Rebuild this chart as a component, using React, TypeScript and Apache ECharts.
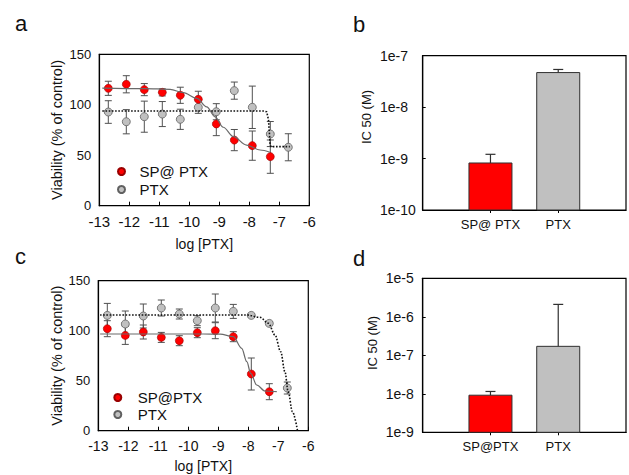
import { useEffect, useRef } from 'react';
import * as echarts from 'echarts';

const FONT = '"Liberation Sans", Arial, sans-serif';

// log10 of PTX concentration (M)
const logConc = [-12.7, -12.1, -11.5, -10.9, -10.3, -9.7, -9.1, -8.5, -7.9, -7.3, -6.7];

// Panel a: viability (% of control)
const aSpMean = [116.3, 120.3, 115, 112.3, 109.4, 105.4, 81, 65, 59.5, 48.6];
const aSpErr = [7, 8.5, 6, 3.5, 8, 8, 11.6, 10.5, 14.5, 16.5];
const aPtxMean = [92.8, 83.2, 88.2, 90.8, 85.6, 97.5, 93.1, 114, 97.5, 71, 57.9];
const aPtxErr = [11.2, 12, 15.4, 12.4, 10, 6, 8, 8.5, 21, 12.4, 13.4];

// Panel a fitted curves
const aFitSpX = [-12.9, -11.5, -10.64, -10.2, -9.75, -9.42, -9.14, -8.87, -8.53, -8.09, -7.64, -7.31];
const aFitSpY = [116.5, 116, 115.3, 112, 106.4, 98, 88, 77.7, 68.4, 60.1, 55.2, 52.9];
const aFitPtxX = [-12.9, -7.5, -7.42, -7.36, -7.33, -7.31, -7.28, -6.65];
const aFitPtxY = [93.8, 93.8, 93, 85, 72, 62, 58.5, 58.5];

// Panel c: viability (% of control)
const cSpMean = [102, 95.3, 98.7, 93.3, 90, 98, 100, 94, 56.7, 39];
const cSpErr = [8, 9, 7, 5, 5, 5, 8, 5, 16, 8];
const cPtxMean = [115.3, 106.7, 114.7, 122.7, 116.7, 110, 122.7, 119.3, 115.3, 107.3, 42.7];
const cPtxErr = [12, 13, 12, 8, 5, 5, 14, 7, 2, 2, 6];

// Panel c fitted curves
const cFitSpX = [-12.94, -9.5, -8.94, -8.5, -8.22, -8.05, -7.92, -7.72, -7.44, -7.05];
const cFitSpY = [96.7, 96.7, 96.5, 94, 82.4, 69, 57.4, 45.7, 39.7, 39];
const cFitPtxX = [-12.94, -8.05, -7.61, -7.33, -7.11, -6.92, -6.78, -6.67, -6.53, -6.36];
const cFitPtxY = [115.7, 115.7, 113.4, 107.4, 95.7, 79, 59, 39, 19, 0];

// Panels b and d: IC50 (M)
const bCats = ['SP@ PTX', 'PTX'];
const bMean = [8.2e-10, 4.7e-8];
const bErr = [3.9e-10, 0.7e-8];
const dCats = ['SP@PTX', 'PTX'];
const dMean = [9.2e-9, 1.71e-7];
const dErr = [2.3e-9, 1.93e-6];

const xTicks = { min: -13, max: -6, interval: 1 };
const yTicks = { min: 0, max: 150, interval: 50 };

const RED = '#ff0000';
const GRAY = '#c0c0c0';

const zip = (xs: number[], ys: number[]) => ys.map((y, i) => [xs[i], y]);
const zip3 = (xs: number[], ys: number[], es: number[]) => ys.map((y, i) => [xs[i], y, es[i]]);

const errRender = (capHalf: number) => (_p: any, api: any) => {
  const x = api.value(0), y = api.value(1), e = api.value(2);
  const lo = api.coord([x, y - e]);
  const hi = api.coord([x, y + e]);
  const style = { stroke: '#505050', lineWidth: 1 };
  return {
    type: 'group',
    children: [
      { type: 'line', shape: { x1: lo[0], y1: lo[1], x2: hi[0], y2: hi[1] }, style },
      { type: 'line', shape: { x1: lo[0] - capHalf, y1: lo[1], x2: lo[0] + capHalf, y2: lo[1] }, style },
      { type: 'line', shape: { x1: hi[0] - capHalf, y1: hi[1], x2: hi[0] + capHalf, y2: hi[1] }, style },
    ],
  };
};

const barErrRender = (capHalf: number) => (_p: any, api: any) => {
  const x = api.value(0), y = api.value(1), e = api.value(2);
  const lo = api.coord([x, y]);
  const hi = api.coord([x, y + e]);
  const style = { stroke: '#303030', lineWidth: 1.2 };
  return {
    type: 'group',
    children: [
      { type: 'line', shape: { x1: lo[0], y1: lo[1], x2: hi[0], y2: hi[1] }, style },
      { type: 'line', shape: { x1: hi[0] - capHalf, y1: hi[1], x2: hi[0] + capHalf, y2: hi[1] }, style },
    ],
  };
};

const barRender = (colors: string[], halfW: number, base: number) => (_p: any, api: any) => {
  const idx = api.value(0);
  const top = api.coord([idx, api.value(1)]);
  const bot = api.coord([idx, base]);
  return {
    type: 'rect',
    shape: { x: top[0] - halfW, y: top[1], width: halfW * 2, height: bot[1] - top[1] },
    style: { fill: colors[idx - 1], stroke: '#303030', lineWidth: 1 },
  };
};

const valueXAxis = (gridIndex: number, labelSize: number, nameGap: number) => ({
  type: 'value', gridIndex, ...xTicks,
  name: 'log [PTX]', nameLocation: 'middle', nameGap,
  nameTextStyle: { fontFamily: FONT, fontSize: 14, color: '#111' },
  axisLine: { lineStyle: { color: '#000', width: 1.2 } },
  axisTick: { show: true, inside: true, length: 4, lineStyle: { color: '#000' } },
  axisLabel: { fontFamily: FONT, fontSize: labelSize, color: '#111', margin: 8 },
  splitLine: { show: false },
});

const valueYAxis = (gridIndex: number, nameGap: number) => ({
  type: 'value', gridIndex, ...yTicks,
  name: 'Viability (% of control)', nameLocation: 'middle', nameGap,
  nameTextStyle: { fontFamily: FONT, fontSize: 14.5, color: '#111' },
  axisLine: { show: true, lineStyle: { color: '#000', width: 1.2 } },
  axisTick: { show: false },
  axisLabel: { fontFamily: FONT, fontSize: 13, color: '#111', margin: 8 },
  splitLine: { show: false },
});

const catXAxis = (gridIndex: number, cats: string[]) => ({
  type: 'category', gridIndex, boundaryGap: false,
  data: ['', ...cats, ''],
  axisLine: { lineStyle: { color: '#000', width: 1.2 } },
  axisTick: { show: true, length: 3, interval: (i: number) => i === 1 || i === 2, lineStyle: { color: '#000' } },
  axisLabel: { fontFamily: FONT, fontSize: 13, color: '#111', margin: 8, interval: 0 },
  splitLine: { show: false },
});

const logYAxis = (gridIndex: number, min: number, max: number, margin: number) => ({
  type: 'log', gridIndex, min, max, logBase: 10,
  axisLine: { show: true, lineStyle: { color: '#000', width: 1.2 } },
  axisTick: { show: true, inside: true, length: 3, lineStyle: { color: '#000' } },
  axisLabel: {
    fontFamily: FONT, fontSize: 14, color: '#111', margin, align: 'left',
    formatter: (v: number) => '1e' + Math.round(Math.log10(v)),
  },
  minorTick: { show: false },
  splitLine: { show: false },
});

export default function App() {
  const ref = useRef<HTMLDivElement>(null);
  useEffect(() => {
    document.body.style.margin = '0';
    if (!ref.current) return;
    const chart = echarts.init(ref.current, null, { renderer: 'svg' });
    const gridBase = { show: true, borderColor: '#000', borderWidth: 1.2, containLabel: false };
    const option: any = {
      animation: false,
      backgroundColor: '#fff',
      grid: [
        { ...gridBase, left: 99.3, top: 54.3, width: 210, height: 151.4 },
        { ...gridBase, left: 422.7, top: 55.7, width: 213, height: 154.3 },
        { ...gridBase, left: 98.3, top: 280.7, width: 210, height: 150 },
        { ...gridBase, left: 422.7, top: 278.3, width: 213, height: 154 },
      ],
      xAxis: [
        valueXAxis(0, 15, 31),
        catXAxis(1, bCats),
        valueXAxis(2, 14, 28),
        catXAxis(3, dCats),
      ],
      yAxis: [
        valueYAxis(0, 35),
        logYAxis(1, 1e-10, 1e-7, 42.7),
        valueYAxis(2, 34.3),
        logYAxis(3, 1e-9, 1e-5, 37),
      ],
      legend: [
        {
          data: ['SP@ PTX', 'PTX'], orient: 'vertical', left: 117, top: 164, padding: 0,
          itemWidth: 26, itemHeight: 7, itemGap: 3, icon: 'circle',
          textStyle: { fontFamily: FONT, fontSize: 15, color: '#111' },
        },
        {
          data: ['SP@PTX', 'PTX'], orient: 'vertical', left: 113.3, top: 390, padding: 0,
          itemWidth: 30, itemHeight: 7, itemGap: 2, icon: 'circle',
          textStyle: { fontFamily: FONT, fontSize: 15, color: '#111' },
        },
      ],
      graphic: [
        { type: 'text', x: 15, y: 23.5, style: { text: 'a', font: `22px ${FONT}`, fill: '#111', verticalAlign: 'middle' } },
        { type: 'text', x: 353, y: 24.7, style: { text: 'b', font: `22px ${FONT}`, fill: '#111', verticalAlign: 'middle' } },
        { type: 'text', x: 15, y: 256.4, style: { text: 'c', font: `22px ${FONT}`, fill: '#111', verticalAlign: 'middle' } },
        { type: 'text', x: 353, y: 258.4, style: { text: 'd', font: `22px ${FONT}`, fill: '#111', verticalAlign: 'middle' } },
        { type: 'text', x: 366, y: 117, rotation: Math.PI / 2, style: { text: 'IC 50 (M)', font: `13px ${FONT}`, fill: '#111', align: 'center', verticalAlign: 'middle' } },
        { type: 'text', x: 372, y: 343, rotation: Math.PI / 2, style: { text: 'IC 50 (M)', font: `13px ${FONT}`, fill: '#111', align: 'center', verticalAlign: 'middle' } },
      ],
      series: [
        // Panel a
        { type: 'custom', name: 'errA_sp', xAxisIndex: 0, yAxisIndex: 0, z: 2, renderItem: errRender(3.5), data: zip3(logConc, aSpMean, aSpErr) },
        { type: 'custom', name: 'errA_ptx', xAxisIndex: 0, yAxisIndex: 0, z: 2, renderItem: errRender(3.5), data: zip3(logConc, aPtxMean, aPtxErr) },
        { type: 'scatter', name: 'PTX', xAxisIndex: 0, yAxisIndex: 0, z: 3, symbolSize: 8, itemStyle: { color: GRAY, borderColor: '#606060', borderWidth: 0.8, opacity: 1 }, data: zip(logConc, aPtxMean) },
        { type: 'scatter', name: 'SP@ PTX', xAxisIndex: 0, yAxisIndex: 0, z: 3, symbolSize: 8, itemStyle: { color: RED, borderColor: '#900', borderWidth: 0.6, opacity: 1 }, data: zip(logConc, aSpMean) },
        { type: 'line', name: 'fitA_sp', xAxisIndex: 0, yAxisIndex: 0, z: 4, showSymbol: false, smooth: 0.35, smoothMonotone: 'x', lineStyle: { color: '#6a6a6a', width: 1.2 }, data: zip(aFitSpX, aFitSpY) },
        { type: 'line', name: 'fitA_ptx', xAxisIndex: 0, yAxisIndex: 0, z: 4, showSymbol: false, lineStyle: { color: '#111', width: 1.6, type: [1.6, 1.6] }, data: zip(aFitPtxX, aFitPtxY) },
        // Panel b
        { type: 'custom', name: 'barsB', xAxisIndex: 1, yAxisIndex: 1, z: 2, renderItem: barRender([RED, GRAY], 21.5, 1e-10), data: bMean.map((v, i) => [i + 1, v]) },
        { type: 'custom', name: 'errB', xAxisIndex: 1, yAxisIndex: 1, z: 3, renderItem: barErrRender(5), data: bMean.map((v, i) => [i + 1, v, bErr[i]]) },
        // Panel c
        { type: 'custom', name: 'errC_sp', xAxisIndex: 2, yAxisIndex: 2, z: 2, renderItem: errRender(3.5), data: zip3(logConc, cSpMean, cSpErr) },
        { type: 'custom', name: 'errC_ptx', xAxisIndex: 2, yAxisIndex: 2, z: 2, renderItem: errRender(3.5), data: zip3(logConc, cPtxMean, cPtxErr) },
        { type: 'scatter', name: 'PTX', xAxisIndex: 2, yAxisIndex: 2, z: 3, symbolSize: 8, itemStyle: { color: GRAY, borderColor: '#606060', borderWidth: 0.8, opacity: 1 }, data: zip(logConc, cPtxMean) },
        { type: 'scatter', name: 'SP@PTX', xAxisIndex: 2, yAxisIndex: 2, z: 3, symbolSize: 8, itemStyle: { color: RED, borderColor: '#900', borderWidth: 0.6, opacity: 1 }, data: zip(logConc, cSpMean) },
        { type: 'line', name: 'fitC_sp', xAxisIndex: 2, yAxisIndex: 2, z: 4, showSymbol: false, smooth: 0.35, smoothMonotone: 'x', lineStyle: { color: '#6a6a6a', width: 1.2 }, data: zip(cFitSpX, cFitSpY) },
        { type: 'line', name: 'fitC_ptx', xAxisIndex: 2, yAxisIndex: 2, z: 4, showSymbol: false, smooth: 0.35, smoothMonotone: 'x', lineStyle: { color: '#111', width: 1.6, type: [1.6, 1.6] }, data: zip(cFitPtxX, cFitPtxY) },
        // Panel d
        { type: 'custom', name: 'barsD', xAxisIndex: 3, yAxisIndex: 3, z: 2, renderItem: barRender([RED, GRAY], 21.5, 1e-9), data: dMean.map((v, i) => [i + 1, v]) },
        { type: 'custom', name: 'errD', xAxisIndex: 3, yAxisIndex: 3, z: 3, renderItem: barErrRender(5), data: dMean.map((v, i) => [i + 1, v, dErr[i]]) },
      ],
    };
    chart.setOption(option);
    return () => chart.dispose();
  }, []);
  return <div ref={ref} style={{ width: 629, height: 475 }} />;
}
